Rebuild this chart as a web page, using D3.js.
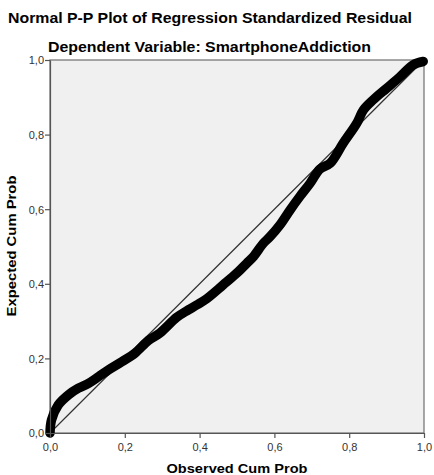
<!DOCTYPE html>
<html><head><meta charset="utf-8">
<script src="https://cdn.jsdelivr.net/npm/d3@7"></script>
<style>html,body{margin:0;padding:0;background:#fff;}svg{display:block;}</style>
</head><body>
<svg id="c" width="434" height="475"></svg>
<script>
const titleText = "Normal P-P Plot of Regression Standardized Residual";
const subtitleText = "Dependent Variable: SmartphoneAddiction";
const xTitle = "Observed Cum Prob";
const yTitle = "Expected Cum Prob";
const tickValues = [0, 0.2, 0.4, 0.6, 0.8, 1.0];
const tickLabels = ["0,0", "0,2", "0,4", "0,6", "0,8", "1,0"];
const observed = [0, 0.004, 0.022, 0.049, 0.076, 0.103, 0.13, 0.156, 0.192, 0.227, 0.263, 0.294, 0.339, 0.37, 0.392, 0.419, 0.463, 0.499, 0.526, 0.544, 0.57, 0.588, 0.615, 0.642, 0.668, 0.695, 0.722, 0.749, 0.784, 0.82, 0.838, 0.864, 0.9, 0.936, 0.971, 0.998];
const expected = [0, 0.035, 0.075, 0.102, 0.12, 0.133, 0.151, 0.169, 0.191, 0.214, 0.248, 0.268, 0.31, 0.33, 0.343, 0.36, 0.397, 0.428, 0.455, 0.473, 0.508, 0.526, 0.558, 0.598, 0.634, 0.669, 0.708, 0.723, 0.777, 0.83, 0.866, 0.893, 0.924, 0.955, 0.987, 0.996];

const svg = d3.select("#c");
const L = 50, R = 424, T = 60, B = 433;
const x = d3.scaleLinear().domain([0, 1]).range([L, R]);
const y = d3.scaleLinear().domain([0, 1]).range([B, T]);
const font = "'Liberation Sans', Arial, sans-serif";

svg.append("rect").attr("x", L).attr("y", T).attr("width", R - L).attr("height", B - T)
  .attr("fill", "#f0f0f0").attr("stroke", "#6e6e6e").attr("stroke-width", 1.2);

// reference diagonal
svg.append("line").attr("x1", x(0)).attr("y1", y(0)).attr("x2", x(1)).attr("y2", y(1))
  .attr("stroke", "#333").attr("stroke-width", 1.2);

// data curve drawn as dense markers
const pts = observed.map((o, i) => [o, expected[i]]);
svg.append("path").datum(pts)
  .attr("d", d3.line().x(d => x(d[0])).y(d => y(d[1])).curve(d3.curveCatmullRom))
  .attr("fill", "none").attr("stroke", "#000").attr("stroke-width", 9.5)
  .attr("stroke-linecap", "round").attr("stroke-linejoin", "round");

// axes
const fmt = d => tickLabels[tickValues.indexOf(d)];
const xa = svg.append("g").attr("transform", `translate(0,${B})`)
  .call(d3.axisBottom(x).tickValues(tickValues).tickFormat(fmt).tickSize(5).tickSizeOuter(0));
const ya = svg.append("g").attr("transform", `translate(${L},0)`)
  .call(d3.axisLeft(y).tickValues(tickValues).tickFormat(fmt).tickSize(5).tickSizeOuter(0));
[xa, ya].forEach(g => {
  g.select(".domain").attr("stroke", "#555").attr("stroke-width", 1.2);
  g.selectAll(".tick line").attr("stroke", "#555").attr("stroke-width", 1.2);
  g.selectAll(".tick text").attr("fill", "#333").style("font-family", font).style("font-size", "11px");
});
xa.selectAll(".tick text").attr("dy", null).attr("y", 18);
ya.selectAll(".tick text").attr("x", -6).attr("dy", "0.35em");

svg.append("text").attr("x", 210).attr("y", 23).attr("text-anchor", "middle")
  .style("font-family", font).style("font-size", "14px").style("font-weight", "bold")
  .attr("textLength", 404).attr("lengthAdjust", "spacingAndGlyphs").text(titleText);
svg.append("text").attr("x", 209.5).attr("y", 52).attr("text-anchor", "middle")
  .style("font-family", font).style("font-size", "14px").style("font-weight", "bold")
  .attr("textLength", 323).attr("lengthAdjust", "spacingAndGlyphs").text(subtitleText);
svg.append("text").attr("x", 237).attr("y", 473).attr("text-anchor", "middle")
  .style("font-family", font).style("font-size", "12.5px").style("font-weight", "bold")
  .attr("textLength", 141).attr("lengthAdjust", "spacingAndGlyphs").text(xTitle);
svg.append("text").attr("transform", "translate(16,246) rotate(-90)").attr("text-anchor", "middle")
  .style("font-family", font).style("font-size", "12.5px").style("font-weight", "bold")
  .attr("textLength", 141).attr("lengthAdjust", "spacingAndGlyphs").text(yTitle);
</script>
</body></html>
